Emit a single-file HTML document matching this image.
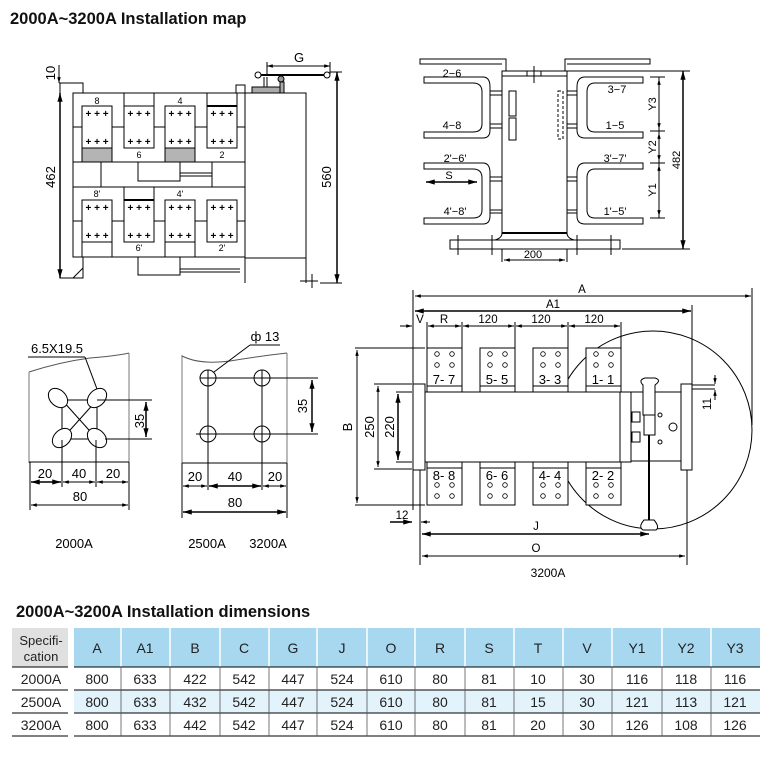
<!DOCTYPE html>
<html><head><meta charset="utf-8"><style>
html,body{margin:0;padding:0;background:#fff;}
svg{display:block;font-family:"Liberation Sans",sans-serif;}
</style></head><body>
<svg width="768" height="770" viewBox="0 0 768 770" xmlns="http://www.w3.org/2000/svg">
<defs>
<marker id="ar" viewBox="0 0 10 6" refX="10" refY="3" markerWidth="6" markerHeight="3.5" orient="auto-start-reverse"><path d="M0,0 L10,3 L0,6 z" fill="#000"/></marker>
</defs>
<g font-weight="bold" font-size="16.5" fill="#111">
<text x="10" y="24">2000A~3200A Installation map</text>
<text x="16" y="617">2000A~3200A Installation dimensions</text>
</g>

<!-- ===== Front view left ===== -->
<g stroke="#000" stroke-width="1" fill="none">
<rect x="60" y="83" width="23" height="195" fill="#fff"/>
<rect x="73" y="93" width="172" height="164" fill="#fff"/>
<rect x="236" y="85" width="9" height="8"/>
<rect x="245" y="93" width="61" height="165" fill="#fff"/>
<line x1="245" y1="258" x2="245" y2="283"/><line x1="306" y1="258" x2="306" y2="283"/>
<line x1="312" y1="274" x2="312" y2="288"/><line x1="300" y1="281" x2="318" y2="281"/>
<rect x="82" y="106" width="30" height="42" fill="#fff"/>
<rect x="124" y="93" width="30" height="55" fill="#fff"/><line x1="124" y1="106" x2="154" y2="106"/>
<rect x="165" y="106" width="30" height="42" fill="#fff"/>
<rect x="207" y="93" width="30" height="55" fill="#fff"/><line x1="207" y1="106" x2="237" y2="106" stroke-width="2"/>
<rect x="82" y="148" width="30" height="14" fill="#b4b4b4"/>
<rect x="165" y="148" width="30" height="14" fill="#b4b4b4"/>
<line x1="73" y1="127" x2="82" y2="127"/><line x1="112" y1="127" x2="124" y2="127"/><line x1="154" y1="127" x2="165" y2="127"/><line x1="195" y1="127" x2="207" y2="127"/><line x1="237" y1="127" x2="245" y2="127"/>
<rect x="73" y="162" width="172" height="25"/>
<line x1="101" y1="162" x2="101" y2="187"/><line x1="212" y1="162" x2="212" y2="187"/>
<rect x="138" y="162" width="42" height="19"/>
<line x1="180" y1="173" x2="212" y2="173"/><line x1="180" y1="176" x2="212" y2="176"/>
<rect x="82" y="200" width="30" height="42"/>
<rect x="124" y="187" width="30" height="55"/><line x1="124" y1="200" x2="154" y2="200" stroke-width="2"/>
<rect x="165" y="200" width="30" height="42"/>
<rect x="207" y="200" width="30" height="42"/>
<line x1="82" y1="242" x2="82" y2="257"/><line x1="112" y1="242" x2="112" y2="257"/><line x1="165" y1="242" x2="165" y2="257"/><line x1="195" y1="242" x2="195" y2="257"/>
<line x1="73" y1="221" x2="82" y2="221"/><line x1="112" y1="221" x2="124" y2="221"/><line x1="154" y1="221" x2="165" y2="221"/><line x1="195" y1="221" x2="207" y2="221"/><line x1="237" y1="221" x2="245" y2="221"/>
<rect x="138" y="257" width="42" height="18"/>
<line x1="180" y1="269" x2="240" y2="269"/><line x1="180" y1="272" x2="240" y2="272"/>
<line x1="73" y1="278" x2="83" y2="268"/>
<line x1="258" y1="75" x2="327" y2="75" stroke-width="2"/>
<circle cx="258" cy="75" r="3" fill="#fff"/><circle cx="327" cy="75" r="3" fill="#fff"/>
<circle cx="281" cy="79" r="3" fill="#999"/>
<rect x="252" y="87" width="28" height="6" fill="#aaa"/>
<rect x="280" y="82" width="4" height="11" fill="#aaa"/>
<line x1="264" y1="77" x2="264" y2="87"/><line x1="267" y1="77" x2="267" y2="87"/>
<line x1="267" y1="66" x2="330" y2="66" marker-start="url(#ar)" marker-end="url(#ar)"/>
<line x1="267" y1="62" x2="267" y2="74"/><line x1="330" y1="62" x2="330" y2="74"/>
<line x1="337" y1="72" x2="337" y2="283" stroke-width="1.5" marker-start="url(#ar)" marker-end="url(#ar)"/>
<line x1="330" y1="72" x2="342" y2="72"/><line x1="320" y1="283" x2="342" y2="283"/>
<line x1="60" y1="93" x2="60" y2="278" stroke-width="1.5" marker-start="url(#ar)" marker-end="url(#ar)"/>
<line x1="59" y1="65" x2="59" y2="83" marker-end="url(#ar)"/>
<line x1="59" y1="83" x2="80" y2="83"/>
</g>
<g font-size="9" fill="#000" text-anchor="middle">
<text x="97" y="104">8</text><text x="180" y="104">4</text><text x="139" y="158">6</text><text x="222" y="158">2</text>
<text x="97" y="197">8'</text><text x="180" y="197">4'</text><text x="139" y="251">6'</text><text x="222" y="251">2'</text>
</g>
<g font-size="10" fill="#000" text-anchor="middle" font-weight="bold">
<text x="97" y="117">+ + +</text><text x="139" y="117">+ + +</text><text x="180" y="117">+ + +</text><text x="222" y="117">+ + +</text>
<text x="97" y="145">+ + +</text><text x="139" y="145">+ + +</text><text x="180" y="145">+ + +</text><text x="222" y="145">+ + +</text>
<text x="97" y="211">+ + +</text><text x="139" y="211">+ + +</text><text x="180" y="211">+ + +</text><text x="222" y="211">+ + +</text>
<text x="97" y="239">+ + +</text><text x="139" y="239">+ + +</text><text x="180" y="239">+ + +</text><text x="222" y="239">+ + +</text>
</g>
<g font-size="13" fill="#000" text-anchor="middle">
<text x="299" y="62">G</text>
<text transform="translate(55,73) rotate(-90)">10</text>
<text transform="translate(55,177) rotate(-90)">462</text>
<text transform="translate(331,177) rotate(-90)">560</text>
</g>

<!-- ===== Top view right ===== -->
<g stroke="#000" stroke-width="1" fill="none">
<rect x="502" y="71" width="65" height="162"/>
<line x1="502" y1="233" x2="567" y2="233" stroke-width="2"/>
<line x1="502" y1="76" x2="567" y2="76"/>
<path d="M506,71 V59 H420 V64 H502" /><path d="M565,71 V59 H650 V64 H567"/>
<rect x="527" y="71" width="14" height="5"/><line x1="534" y1="66" x2="534" y2="83"/>
<path d="M424,77 H483 Q490,77 490,87 V130 Q490,138 483,138 H424 V132 H473 Q482,132 482,124 V92 Q482,83 473,83 H424 Z"/>
<path d="M424,163 H483 Q490,163 490,173 V216 Q490,224 483,224 H424 V218 H473 Q482,218 482,210 V178 Q482,169 473,169 H424 Z"/>
<path d="M490,91 H502 M490,95 H502 M490,128 H502 M490,124 H502 M490,177 H502 M490,181 H502 M490,213 H502 M490,210 H502"/>
<path d="M643,77 H585 Q577,77 577,87 V130 Q577,138 585,138 H643 V132 H595 Q587,132 587,124 V92 Q587,83 595,83 H643 Z"/>
<path d="M643,163 H585 Q577,163 577,173 V216 Q577,224 585,224 H643 V218 H595 Q587,218 587,210 V178 Q587,169 595,169 H643 Z"/>
<path d="M567,91 H577 M567,95 H577 M567,128 H577 M567,124 H577 M567,177 H577 M567,181 H577 M567,213 H577 M567,210 H577"/>
<rect x="509" y="91" width="7" height="25"/><rect x="509" y="118" width="7" height="22"/>
<rect x="558" y="91" width="5" height="48" stroke-dasharray="3,2"/>
<rect x="450" y="240" width="170" height="9"/>
<path d="M495,240 Q502,238 502,233 M574,240 Q567,238 567,233"/>
<line x1="458" y1="235" x2="458" y2="255"/><line x1="492" y1="235" x2="492" y2="255"/><line x1="577" y1="235" x2="577" y2="255"/><line x1="611" y1="235" x2="611" y2="255"/>
<line x1="502" y1="249" x2="502" y2="262"/><line x1="567" y1="249" x2="567" y2="262"/>
<line x1="504" y1="260" x2="565" y2="260" marker-start="url(#ar)" marker-end="url(#ar)"/>
<line x1="426" y1="182" x2="477" y2="182" stroke-width="1.5" marker-start="url(#ar)" marker-end="url(#ar)"/>
<line x1="659" y1="77" x2="659" y2="218"/>
<line x1="650" y1="77" x2="665" y2="77"/><line x1="650" y1="131" x2="665" y2="131"/><line x1="650" y1="163" x2="665" y2="163"/><line x1="650" y1="218" x2="665" y2="218"/>
<line x1="659" y1="79" x2="659" y2="129" marker-start="url(#ar)" marker-end="url(#ar)"/>
<line x1="659" y1="133" x2="659" y2="161" marker-start="url(#ar)" marker-end="url(#ar)"/>
<line x1="659" y1="165" x2="659" y2="216" marker-start="url(#ar)" marker-end="url(#ar)"/>
<line x1="683" y1="71" x2="683" y2="249" stroke-width="1.5" marker-start="url(#ar)" marker-end="url(#ar)"/>
<line x1="567" y1="71" x2="690" y2="71"/><line x1="622" y1="249" x2="690" y2="249"/>
</g>
<g font-size="11" fill="#000" text-anchor="middle">
<text x="452" y="77">2−6</text><text x="452" y="129">4−8</text><text x="455" y="162">2'−6'</text><text x="455" y="215">4'−8'</text>
<text x="617" y="93">3−7</text><text x="615" y="129">1−5</text><text x="615" y="162">3'−7'</text><text x="615" y="215">1'−5'</text>
<text x="449" y="179">S</text><text x="533" y="258">200</text>
<text transform="translate(656,104) rotate(-90)">Y3</text>
<text transform="translate(656,147) rotate(-90)">Y2</text>
<text transform="translate(656,190) rotate(-90)">Y1</text>
<text transform="translate(680,160) rotate(-90)">482</text>
</g>

<!-- ===== Bottom-left details ===== -->
<g stroke="#000" stroke-width="1" fill="none">
<path d="M29,372 Q60,362 90,358 Q115,356 129,353" stroke="#555"/>
<line x1="29" y1="372" x2="29" y2="463" stroke="#777"/><line x1="129" y1="353" x2="129" y2="463" stroke="#777"/>
<line x1="29" y1="462" x2="129" y2="462"/>
<rect x="62" y="400" width="35" height="39"/>
<line x1="62" y1="400" x2="97" y2="439"/><line x1="97" y1="400" x2="62" y2="439"/>
<g fill="#fff">
<ellipse cx="58" cy="398" rx="11" ry="8" transform="rotate(45 58 398)"/>
<ellipse cx="97" cy="398" rx="11" ry="8" transform="rotate(-45 97 398)"/>
<ellipse cx="62" cy="438" rx="11" ry="8" transform="rotate(-45 62 438)"/>
<ellipse cx="97" cy="438" rx="11" ry="8" transform="rotate(45 97 438)"/>
</g>
<line x1="28" y1="357" x2="85" y2="357"/><line x1="85" y1="357" x2="97" y2="389"/>
<line x1="97" y1="400" x2="152" y2="400"/><line x1="105" y1="439" x2="152" y2="439"/>
<line x1="146" y1="402" x2="146" y2="437" stroke-width="1.5" marker-start="url(#ar)" marker-end="url(#ar)"/>
<line x1="62" y1="440" x2="62" y2="487"/><line x1="96" y1="440" x2="96" y2="487"/>
<line x1="30" y1="462" x2="30" y2="510"/><line x1="129" y1="462" x2="129" y2="510"/>
<line x1="31" y1="482" x2="61" y2="482" stroke-width="1.5" marker-start="url(#ar)" marker-end="url(#ar)"/>
<line x1="63" y1="482" x2="95" y2="482" marker-start="url(#ar)" marker-end="url(#ar)"/>
<line x1="97" y1="482" x2="128" y2="482" marker-start="url(#ar)" marker-end="url(#ar)"/>
<line x1="31" y1="505" x2="128" y2="505" marker-start="url(#ar)" marker-end="url(#ar)"/>

<path d="M182,356 Q200,365 230,361 Q260,356 287,353" stroke="#555"/>
<line x1="182" y1="355" x2="182" y2="463" stroke="#777"/><line x1="287" y1="353" x2="287" y2="463" stroke="#777"/>
<line x1="182" y1="463" x2="287" y2="463"/>
<circle cx="208" cy="378" r="8"/><circle cx="262" cy="378" r="8"/><circle cx="208" cy="434" r="8"/><circle cx="262" cy="434" r="8"/>
<line x1="200" y1="378" x2="318" y2="378"/><line x1="196" y1="434" x2="318" y2="434"/>
<line x1="208" y1="370" x2="208" y2="490"/><line x1="262" y1="370" x2="262" y2="490"/>
<line x1="214" y1="372" x2="250" y2="345"/><line x1="250" y1="345" x2="280" y2="345"/>
<line x1="312" y1="380" x2="312" y2="432" stroke-width="1.5" marker-start="url(#ar)" marker-end="url(#ar)"/>
<line x1="182" y1="463" x2="182" y2="518"/><line x1="287" y1="463" x2="287" y2="518"/>
<line x1="183" y1="486" x2="207" y2="486" marker-start="url(#ar)" marker-end="url(#ar)"/>
<line x1="209" y1="486" x2="261" y2="486" stroke-width="1.5" marker-start="url(#ar)" marker-end="url(#ar)"/>
<line x1="263" y1="486" x2="286" y2="486" marker-start="url(#ar)" marker-end="url(#ar)"/>
<line x1="183" y1="512" x2="286" y2="512" stroke-width="1.5" marker-start="url(#ar)" marker-end="url(#ar)"/>
</g>
<g font-size="13" fill="#000" text-anchor="middle">
<text x="57" y="353">6.5X19.5</text>
<text x="45" y="478">20</text><text x="79" y="478">40</text><text x="113" y="478">20</text><text x="80" y="501">80</text>
<text transform="translate(144,421) rotate(-90)">35</text>
<text x="74" y="548">2000A</text>
<text x="265" y="341">ф 13</text>
<text x="195" y="481">20</text><text x="235" y="481">40</text><text x="275" y="481">20</text><text x="235" y="507">80</text>
<text transform="translate(307,406) rotate(-90)">35</text>
<text x="207" y="548">2500A</text><text x="268" y="548">3200A</text>
</g>

<!-- ===== Bottom-right plan ===== -->
<g stroke="#000" stroke-width="1" fill="none">
<circle cx="653" cy="430" r="99"/>
<line x1="413" y1="290" x2="413" y2="510"/>
<line x1="752" y1="288" x2="752" y2="425"/>
<line x1="692" y1="305" x2="692" y2="385"/>
<line x1="415" y1="296" x2="751" y2="296" marker-start="url(#ar)" marker-end="url(#ar)"/>
<line x1="415" y1="311" x2="691" y2="311" stroke-width="1.5" marker-start="url(#ar)" marker-end="url(#ar)"/>
<line x1="400" y1="326" x2="412" y2="326" marker-end="url(#ar)"/>
<line x1="428" y1="326" x2="461" y2="326" marker-start="url(#ar)" marker-end="url(#ar)"/>
<line x1="463" y1="326" x2="514" y2="326" marker-start="url(#ar)" marker-end="url(#ar)"/>
<line x1="516" y1="326" x2="567" y2="326" marker-start="url(#ar)" marker-end="url(#ar)"/>
<line x1="569" y1="326" x2="620" y2="326" marker-start="url(#ar)" marker-end="url(#ar)"/>
<line x1="427" y1="322" x2="427" y2="348"/><line x1="462" y1="322" x2="462" y2="348"/><line x1="515" y1="322" x2="515" y2="348"/><line x1="568" y1="322" x2="568" y2="348"/><line x1="621" y1="322" x2="621" y2="348"/>
<g fill="#fff">
<rect x="427" y="348" width="35" height="38"/><rect x="480" y="348" width="35" height="38"/><rect x="533" y="348" width="35" height="38"/><rect x="586" y="348" width="35" height="38"/>
<rect x="427" y="386" width="35" height="7"/><rect x="480" y="386" width="35" height="7"/><rect x="533" y="386" width="35" height="7"/><rect x="586" y="386" width="35" height="7"/>
<rect x="427" y="462" width="35" height="6"/><rect x="480" y="462" width="35" height="6"/><rect x="533" y="462" width="35" height="6"/><rect x="586" y="462" width="35" height="6"/>
<rect x="427" y="468" width="35" height="37"/><rect x="480" y="468" width="35" height="37"/><rect x="533" y="468" width="35" height="37"/><rect x="586" y="468" width="35" height="37"/>
<rect x="413" y="392" width="207" height="70"/>
<rect x="413" y="392" width="12" height="70"/>
<rect x="620" y="392" width="11" height="70"/>
<rect x="631" y="392" width="52" height="69"/>
<rect x="413" y="384" width="12" height="86"/>
<rect x="681" y="384" width="11" height="86"/>
</g>
<line x1="649" y1="380" x2="649" y2="528" stroke-width="2"/>
<path d="M643,385 Q638,380 645,378 H655 Q662,380 655,385 V415 H643 Z" fill="#fff"/>
<rect x="644" y="415" width="11" height="20" fill="#fff"/>
<path d="M644,520 Q638,527 643,530 H656 Q660,527 654,520 Z" fill="#fff"/>
<circle cx="673" cy="427" r="4"/><circle cx="660" cy="415" r="2"/><circle cx="660" cy="442" r="2"/>
<rect x="632" y="412" width="8" height="10"/><rect x="632" y="432" width="8" height="10"/>
<line x1="355" y1="348" x2="425" y2="348"/><line x1="355" y1="505" x2="425" y2="505"/>
<line x1="357" y1="350" x2="357" y2="503" marker-start="url(#ar)" marker-end="url(#ar)"/>
<line x1="374" y1="384" x2="412" y2="384"/><line x1="374" y1="469" x2="412" y2="469"/>
<line x1="378" y1="386" x2="378" y2="467" marker-start="url(#ar)" marker-end="url(#ar)"/>
<line x1="396" y1="392" x2="412" y2="392"/><line x1="396" y1="462" x2="412" y2="462"/>
<line x1="398" y1="394" x2="398" y2="460" stroke-width="1.5" marker-start="url(#ar)" marker-end="url(#ar)"/>
<line x1="390" y1="522" x2="412" y2="522" stroke-width="1.5" marker-end="url(#ar)"/>
<line x1="421" y1="522" x2="430" y2="522" marker-start="url(#ar)"/>
<line x1="420" y1="470" x2="420" y2="565"/><line x1="687" y1="470" x2="687" y2="565"/>
<line x1="422" y1="534" x2="649" y2="534" stroke-width="1.5" marker-start="url(#ar)" marker-end="url(#ar)"/>
<line x1="422" y1="556" x2="685" y2="556" marker-start="url(#ar)" marker-end="url(#ar)"/>
<line x1="692" y1="385" x2="715" y2="385"/><line x1="692" y1="389" x2="715" y2="389"/>
<line x1="715" y1="375" x2="715" y2="384" marker-end="url(#ar)"/><line x1="715" y1="400" x2="715" y2="390" marker-end="url(#ar)"/>
</g>
<g fill="none" stroke="#000" stroke-width="0.8">
<g id="h4"><circle cx="437" cy="354" r="2.3"/><circle cx="452" cy="354" r="2.3"/><circle cx="437" cy="365" r="2.3"/><circle cx="452" cy="365" r="2.3"/></g>
<use href="#h4" x="53"/><use href="#h4" x="106"/><use href="#h4" x="159"/>
<use href="#h4" y="131"/><use href="#h4" x="53" y="131"/><use href="#h4" x="106" y="131"/><use href="#h4" x="159" y="131"/>
</g>
<g font-size="13" fill="#000" text-anchor="middle">
<text x="444" y="384">7- 7</text><text x="497" y="384">5- 5</text><text x="550" y="384">3- 3</text><text x="603" y="384">1- 1</text>
<text x="444" y="480">8- 8</text><text x="497" y="480">6- 6</text><text x="550" y="480">4- 4</text><text x="603" y="480">2- 2</text>
</g>
<g font-size="11.5" fill="#000" text-anchor="middle">
<text x="582" y="293">A</text><text x="553" y="308">A1</text>
<text x="420" y="323">V</text><text x="444" y="323">R</text><text x="488" y="323">120</text><text x="541" y="323">120</text><text x="594" y="323">120</text>
<text x="402" y="519">12</text>
<text x="536" y="530">J</text><text x="536" y="552">O</text>
<text x="548" y="577" font-size="12">3200A</text>
<text transform="translate(352,427) rotate(-90)" font-size="13">B</text>
<text transform="translate(374,427) rotate(-90)" font-size="13">250</text>
<text transform="translate(394,427) rotate(-90)" font-size="13">220</text>
<text transform="translate(711,404) rotate(-90)">11</text>
</g>

<!-- ===== Table ===== -->
<g>
<rect x="12" y="628" width="56" height="39" fill="#e0e0e0"/>
<rect x="74" y="628" width="686" height="39" fill="#a8d8f0"/>
<rect x="74" y="690" width="686" height="23" fill="#e3f3fb"/>
<g stroke="#fff" stroke-width="1.5">
<line x1="121" y1="628" x2="121" y2="667"/><line x1="170" y1="628" x2="170" y2="667"/><line x1="220" y1="628" x2="220" y2="667"/><line x1="269" y1="628" x2="269" y2="667"/><line x1="317" y1="628" x2="317" y2="667"/><line x1="367" y1="628" x2="367" y2="667"/><line x1="415" y1="628" x2="415" y2="667"/><line x1="465" y1="628" x2="465" y2="667"/><line x1="514" y1="628" x2="514" y2="667"/><line x1="563" y1="628" x2="563" y2="667"/><line x1="612" y1="628" x2="612" y2="667"/><line x1="662" y1="628" x2="662" y2="667"/><line x1="711" y1="628" x2="711" y2="667"/>
</g>
<g stroke="#000" stroke-width="1">
<line x1="12" y1="667" x2="68" y2="667"/><line x1="74" y1="667" x2="760" y2="667"/>
<line x1="12" y1="690" x2="68" y2="690"/><line x1="74" y1="690" x2="760" y2="690"/>
<line x1="12" y1="713" x2="68" y2="713"/><line x1="74" y1="713" x2="760" y2="713"/>
<line x1="12" y1="736" x2="68" y2="736"/><line x1="74" y1="736" x2="760" y2="736"/>
<g stroke="#555" stroke-width="0.8">
<line x1="121" y1="667" x2="121" y2="736"/><line x1="170" y1="667" x2="170" y2="736"/><line x1="220" y1="667" x2="220" y2="736"/><line x1="269" y1="667" x2="269" y2="736"/><line x1="317" y1="667" x2="317" y2="736"/><line x1="367" y1="667" x2="367" y2="736"/><line x1="415" y1="667" x2="415" y2="736"/><line x1="465" y1="667" x2="465" y2="736"/><line x1="514" y1="667" x2="514" y2="736"/><line x1="563" y1="667" x2="563" y2="736"/><line x1="612" y1="667" x2="612" y2="736"/><line x1="662" y1="667" x2="662" y2="736"/><line x1="711" y1="667" x2="711" y2="736"/>
</g>
</g>
<g font-size="14" fill="#222" text-anchor="middle">
<text x="41" y="645" font-size="13">Specifi-</text><text x="41" y="661" font-size="13">cation</text>
<text x="97" y="653">A</text><text x="145" y="653">A1</text><text x="195" y="653">B</text><text x="244" y="653">C</text><text x="293" y="653">G</text><text x="342" y="653">J</text><text x="391" y="653">O</text><text x="440" y="653">R</text><text x="489" y="653">S</text><text x="538" y="653">T</text><text x="587" y="653">V</text><text x="637" y="653">Y1</text><text x="686" y="653">Y2</text><text x="735" y="653">Y3</text>
<text x="41" y="684">2000A</text><text x="97" y="684">800</text><text x="145" y="684">633</text><text x="195" y="684">422</text><text x="244" y="684">542</text><text x="293" y="684">447</text><text x="342" y="684">524</text><text x="391" y="684">610</text><text x="440" y="684">80</text><text x="489" y="684">81</text><text x="538" y="684">10</text><text x="587" y="684">30</text><text x="637" y="684">116</text><text x="686" y="684">118</text><text x="735" y="684">116</text>
<text x="41" y="707">2500A</text><text x="97" y="707">800</text><text x="145" y="707">633</text><text x="195" y="707">432</text><text x="244" y="707">542</text><text x="293" y="707">447</text><text x="342" y="707">524</text><text x="391" y="707">610</text><text x="440" y="707">80</text><text x="489" y="707">81</text><text x="538" y="707">15</text><text x="587" y="707">30</text><text x="637" y="707">121</text><text x="686" y="707">113</text><text x="735" y="707">121</text>
<text x="41" y="730">3200A</text><text x="97" y="730">800</text><text x="145" y="730">633</text><text x="195" y="730">442</text><text x="244" y="730">542</text><text x="293" y="730">447</text><text x="342" y="730">524</text><text x="391" y="730">610</text><text x="440" y="730">80</text><text x="489" y="730">81</text><text x="538" y="730">20</text><text x="587" y="730">30</text><text x="637" y="730">126</text><text x="686" y="730">108</text><text x="735" y="730">126</text>
</g>
</g>
</svg>
</body></html>
